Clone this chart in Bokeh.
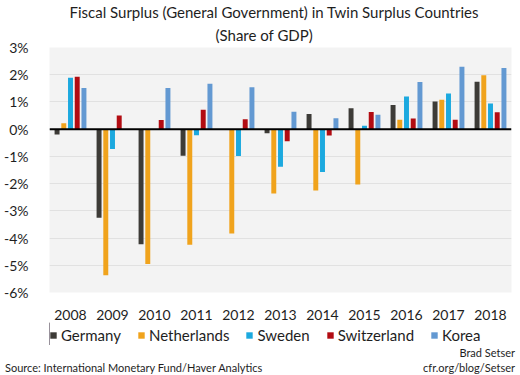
from bokeh.plotting import figure
from bokeh.layouts import column
from bokeh.models import (ColumnDataSource, Span, Legend, LegendItem, FactorRange,
                          Range1d, FixedTicker, Title, Div)
from bokeh.transform import dodge
from bokeh.embed import file_html
from bokeh.resources import INLINE

years = ["2008", "2009", "2010", "2011", "2012", "2013", "2014", "2015", "2016", "2017", "2018"]
germany = [-0.20, -3.25, -4.23, -0.98, 0.00, -0.15, 0.56, 0.77, 0.89, 1.02, 1.74]
netherlands = [0.22, -5.37, -4.95, -4.25, -3.83, -2.36, -2.25, -2.03, 0.35, 1.08, 1.98]
sweden = [1.89, -0.73, 0.00, -0.22, -0.99, -1.38, -1.57, 0.13, 1.20, 1.31, 0.94]
switzerland = [1.93, 0.50, 0.34, 0.71, 0.36, -0.44, -0.23, 0.63, 0.39, 0.35, 0.62]
korea = [1.51, 0.00, 1.51, 1.67, 1.54, 0.64, 0.40, 0.53, 1.73, 2.29, 2.25]

series = ["Germany", "Netherlands", "Sweden", "Switzerland", "Korea"]
colors = ["#3d3b37", "#f0a31c", "#1ca9df", "#b20c12", "#6399d2"]
offsets = [-0.32, -0.16, 0.0, 0.16, 0.32]
yticks = [-6, -5, -4, -3, -2, -1, 0, 1, 2, 3]

title_1 = "Fiscal Surplus (General Government) in Twin Surplus Countries"
title_2 = "(Share of GDP)"
credit_1 = "Brad Setser"
credit_2 = "cfr.org/blog/Setser"
source_note = "Source: International Monetary Fund/Haver Analytics"

FONT = "Lato"
TXT = "#1e1e1e"

source = ColumnDataSource(dict(year=years, Germany=germany, Netherlands=netherlands,
                               Sweden=sweden, Switzerland=switzerland, Korea=korea))

# ---------------- main chart ----------------
p = figure(x_range=FactorRange(*years, range_padding=0), y_range=Range1d(-6, 3),
           width=520, height=322, output_backend="svg", toolbar_location=None,
           min_border_left=43, min_border_right=9, min_border_top=46, min_border_bottom=28)

p.background_fill_color = "#f3f3f3"
p.border_fill_color = "white"
p.outline_line_color = None

for name, col, off in zip(series, colors, offsets):
    p.vbar(x=dodge("year", off, range=p.x_range), top=name, width=0.118,
           source=source, color=col, line_color=None)

p.add_layout(Span(location=0, dimension="width", line_color="black", line_width=2))

p.xgrid.grid_line_color = None
p.ygrid.grid_line_color = "#e1e1e1"
p.ygrid.grid_line_width = 1

p.yaxis.ticker = FixedTicker(ticks=yticks)
p.yaxis.major_label_overrides = {t: f"{t}%" for t in yticks}
for ax in (p.xaxis, p.yaxis):
    ax.axis_line_color = None
    ax.major_tick_line_color = None
    ax.minor_tick_line_color = None
    ax.major_label_text_font = FONT
    ax.major_label_text_font_size = "14px"
    ax.major_label_text_color = TXT
p.yaxis.major_label_standoff = 15
p.xaxis.major_label_standoff = 11

p.title.text = title_1
p.title.align = "left"
p.title.offset = 20
p.title.standoff = 0
p.title.text_font = FONT
p.title.text_font_size = "15px"
p.title.text_font_style = "normal"
p.title.text_color = TXT
p.add_layout(Title(text=title_2, align="left", offset=166, standoff=7, text_font=FONT,
                   text_font_size="15px", text_font_style="normal", text_color=TXT), "above")

# ---------------- legend strip ----------------
b = figure(x_range=Range1d(0, 1), y_range=Range1d(0, 1), width=520, height=23,
           output_backend="svg", toolbar_location=None,
           x_axis_location=None, y_axis_location=None,
           min_border_left=0, min_border_right=0, min_border_top=0, min_border_bottom=0)
b.grid.visible = False
b.outline_line_color = None
b.background_fill_color = "white"
b.border_fill_color = "white"

items = []
for name, col in zip(series, colors):
    r = b.vbar(x=[-1000], top=[1], width=1, color=col, line_color=None)
    items.append(LegendItem(label=name, renderers=[r]))

legend = Legend(items=items, orientation="horizontal", location=(0, 1),
                label_text_font=FONT, label_text_font_size="15px", label_text_color=TXT,
                glyph_width=8, glyph_height=8, label_standoff=4, spacing=16,
                margin=0, padding=0, label_height=18, border_line_color=None,
                background_fill_alpha=0)
b.add_layout(legend)

# ---------------- credits ----------------
credits_html = (
    f'<div style="position:relative;width:520px;height:30px;font-family:Lato;'
    f'font-size:11px;line-height:13px;color:{TXT};">'
    f'<span style="position:absolute;right:5px;top:1px;">{credit_1}</span>'
    f'<span style="position:absolute;right:5px;top:16px;">{credit_2}</span>'
    f'<span style="position:absolute;left:5px;top:16px;">{source_note}</span>'
    f'</div>'
)
foot = Div(text=credits_html, width=520, height=30, margin=(0, 0, 0, 0))

layout = column(p, b, foot, spacing=0)
open("out.html", "w").write(file_html(layout, INLINE))
